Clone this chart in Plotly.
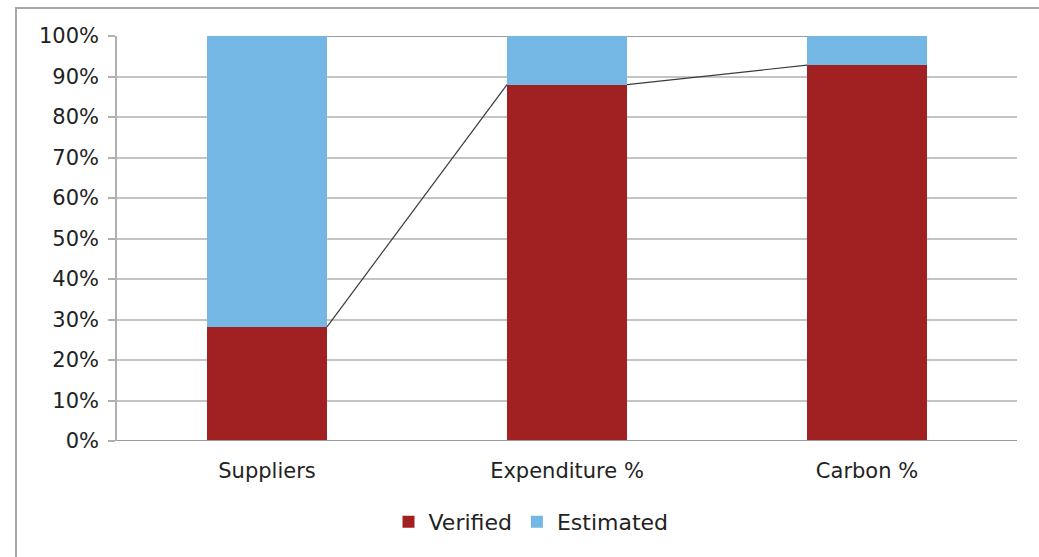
import plotly.graph_objects as go

categories = ["Suppliers", "Expenditure %", "Carbon %"]
verified = [28.2, 88.0, 92.8]
estimated = [71.8, 12.0, 7.2]
y_ticks = [0, 10, 20, 30, 40, 50, 60, 70, 80, 90, 100]
y_tick_labels = [f"{v}%" for v in y_ticks]

RED = "#A12122"
BLUE = "#74B6E4"
BAR_W = 0.4
FONT = "DejaVu Sans, Arial, sans-serif"

xs = list(range(len(categories)))
fig = go.Figure()
fig.add_bar(x=xs, y=verified, name="Verified", marker=dict(color=RED, line=dict(width=0)), width=BAR_W)
fig.add_bar(x=xs, y=estimated, name="Estimated", marker=dict(color=BLUE, line=dict(width=0)), width=BAR_W)

# series lines connecting the tops of each series between adjacent bars
tops_v = verified
tops_e = [v + e for v, e in zip(verified, estimated)]
for tops in (tops_v, tops_e):
    lx, ly = [], []
    for i in range(len(xs) - 1):
        lx += [xs[i] + BAR_W / 2, xs[i + 1] - BAR_W / 2, None]
        ly += [tops[i], tops[i + 1], None]
    fig.add_scatter(x=lx, y=ly, mode="lines", line=dict(color="#3a3a3a", width=1.2),
                    showlegend=False, hoverinfo="skip")

fig.update_layout(
    barmode="stack",
    width=1039, height=557,
    margin=dict(l=117, r=22, t=36, b=116),
    paper_bgcolor="white", plot_bgcolor="white",
    font=dict(family=FONT, size=21, color="#222222"),
    showlegend=True,
    legend=dict(orientation="h", x=0.46, xanchor="center", y=-0.2, yanchor="middle",
                font=dict(size=22, family=FONT, color="#222222"), itemwidth=30,
                traceorder="normal"),
    xaxis=dict(range=[-0.5, 2.5], tickvals=xs, ticktext=categories, showgrid=False,
               showline=False, zeroline=False, ticks="", tickfont=dict(size=21),
               ticklabelstandoff=15),
    yaxis=dict(range=[0, 100], tickvals=y_ticks, ticktext=y_tick_labels,
               showgrid=True, gridcolor="#c4c4c4", gridwidth=1.5,
               showline=True, linecolor="#b0b0b0", linewidth=1.5,
               ticks="outside", ticklen=7, tickcolor="#b0b0b0", tickwidth=1.5,
               zeroline=False, tickfont=dict(size=21), ticklabelstandoff=5),
    shapes=[
        dict(type="line", xref="paper", yref="y", x0=0, x1=1, y0=0, y1=0,
             line=dict(color="#9a9a9a", width=2), layer="above"),
        dict(type="rect", xref="paper", yref="paper", x0=(16 - 117) / 900, x1=1.1,
             y0=-0.4, y1=(441 - 8) / 405, line=dict(color="#a8a8a8", width=2), layer="below"),
    ],
)

fig.write_html("out.html")
